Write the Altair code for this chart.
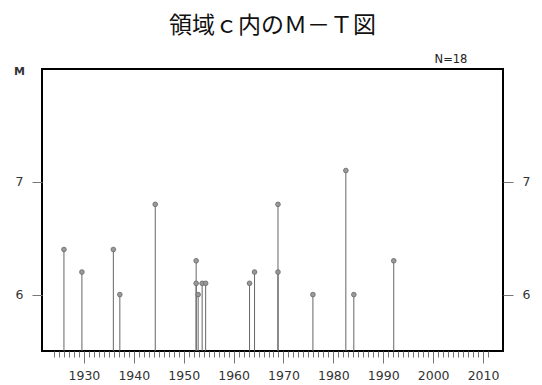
import altair as alt
import pandas as pd

# Earthquake events (year, magnitude)
years = [1926.0, 1929.6, 1935.9, 1937.2, 1944.3, 1952.5, 1952.5, 1952.9, 1953.7,
         1954.4, 1963.2, 1964.2, 1968.9, 1968.9, 1975.9, 1982.5, 1984.1, 1992.1]
mags = [6.4, 6.2, 6.4, 6.0, 6.8, 6.3, 6.1, 6.0, 6.1,
        6.1, 6.1, 6.2, 6.8, 6.2, 6.0, 7.1, 6.0, 6.3]

x_tick_values = list(range(1924, 2012))
y_tick_values = [6, 7]
x_domain = [1921.6, 2014]
y_domain = [5.5, 8.0]
base_m = 5.5

df = pd.DataFrame({"year": years, "M": mags})

FONT = "DejaVu Sans"

x_scale = alt.Scale(domain=x_domain, nice=False, zero=False)
y_scale = alt.Scale(domain=y_domain, nice=False, zero=False)

x_axis = alt.Axis(
    values=x_tick_values,
    labelExpr="datum.value % 10 === 0 ? datum.label : ''",
    format="d",
    tickSize={"condition": {"test": "datum.value % 10 === 0", "value": 12}, "value": 6},
    tickColor="#777",
    tickWidth=1,
    labelPadding=6,
    labelFontSize=12.5,
    labelColor="#333",
    labelFont=FONT,
    labelBaseline="top",
    labelFlush=False,
    domain=False,
    grid=False,
    title=None,
)

y_axis_left = alt.Axis(
    values=y_tick_values,
    orient="left",
    tickSize=10,
    tickColor="#777",
    labelPadding=9,
    labelFontSize=12.5,
    labelColor="#333",
    labelFont=FONT,
    domain=False,
    grid=False,
    title="M",
    titleAngle=0,
    titleX=-23,
    titleY=2,
    titleAlign="center",
    titleBaseline="middle",
    titleFontSize=11,
    titleFontWeight="bold",
    titleFont=FONT,
    titleColor="#333",
)

y_axis_right = alt.Axis(
    values=y_tick_values,
    orient="right",
    tickSize=10,
    tickColor="#777",
    labelPadding=9,
    labelFontSize=12.5,
    labelColor="#333",
    labelFont=FONT,
    domain=False,
    grid=False,
    title=None,
)

stems = alt.Chart(df).mark_rule(color="#666", strokeWidth=1).encode(
    x=alt.X("year:Q", scale=x_scale, axis=x_axis),
    y=alt.Y("M:Q", scale=y_scale, axis=y_axis_left),
    y2=alt.Y2(datum=base_m),
)

points = alt.Chart(df).mark_point(
    filled=True, size=22, color="#999", stroke="#666", strokeWidth=0.8, opacity=1
).encode(
    x=alt.X("year:Q", scale=x_scale, axis=x_axis),
    y=alt.Y("M:Q", scale=y_scale, axis=y_axis_right),
)

count_label = alt.Chart(df).transform_aggregate(
    n="count()"
).transform_calculate(
    label="'N=' + datum.n"
).mark_text(
    font=FONT, fontSize=11.5, color="#222", align="center", baseline="middle"
).encode(
    text="label:N",
    x=alt.value(409),
    y=alt.value(-9),
)

chart = alt.layer(stems, points, count_label).resolve_axis(
    y="independent"
).properties(
    width=461,
    height=282,
    background="white",
    title=alt.TitleParams(
        "領域ｃ内のＭ－Ｔ図",
        font="Noto Sans CJK JP",
        fontSize=23,
        fontWeight="normal",
        color="#111",
        anchor="middle",
        offset=16,
    ),
    autosize=alt.AutoSizeParams(type="none"),
    padding={"left": 34, "top": 61, "right": 30, "bottom": 33},
).configure_view(
    stroke="black", strokeWidth=2
)

chart.save("out.html", embed_options={"renderer": "svg", "actions": False})
